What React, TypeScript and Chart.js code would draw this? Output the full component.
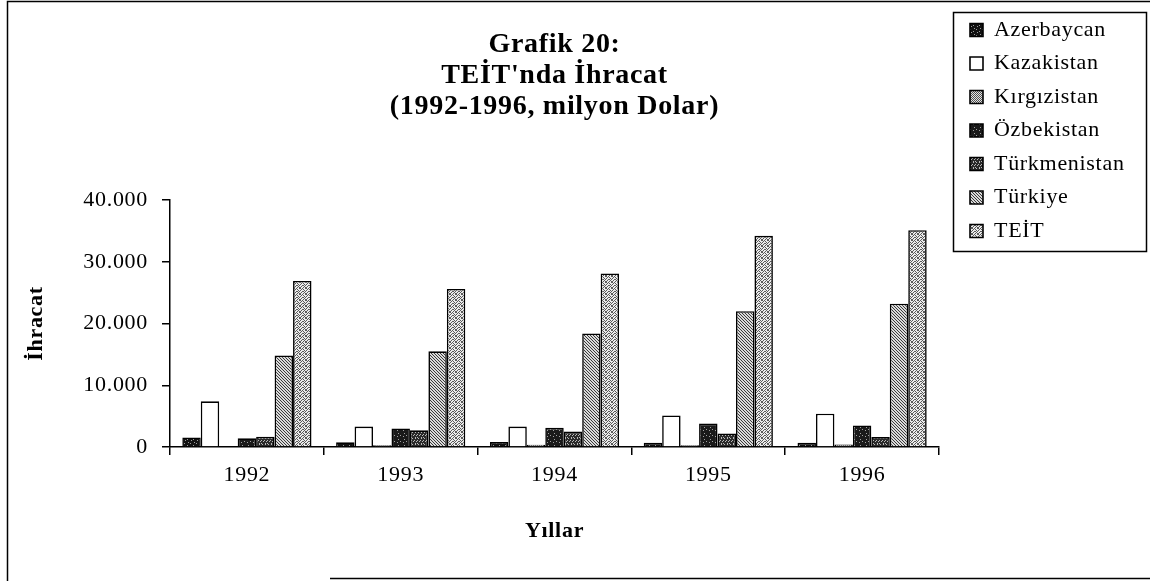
import React, { useEffect, useRef } from 'react';
import { Chart, registerables } from 'chart.js';

Chart.register(...registerables);

// ---- data ----
const years = ['1992', '1993', '1994', '1995', '1996'];
const azerbaycan = [1550, 750, 800, 700, 700];
const kazakistan = [7400, 3300, 3300, 5100, 5400];
const kirgizistan = [150, 300, 350, 300, 400];
const ozbekistan = [1400, 3000, 3100, 3800, 3500];
const turkmenistan = [1650, 2700, 2500, 2200, 1600];
const turkiye = [14800, 15500, 18400, 22000, 23200];
const teit = [26900, 25600, 28100, 34200, 35100];
const seriesNames = ['Azerbaycan', 'Kazakistan', 'Kırgızistan', 'Özbekistan', 'Türkmenistan', 'Türkiye', 'TEİT'];
const titleLines = ['Grafik 20:', "TEİT'nda İhracat", '(1992-1996, milyon Dolar)'];
const yAxisTitle = 'İhracat';
const xAxisTitle = 'Yıllar';
const yMin = 0;
const yMax = 40000;
const yStep = 10000;

const SERIF = "'Liberation Serif', 'Times New Roman', serif";
const LETTER_SPACING = '0.7px';

function fmt(v: number): string {
  return String(Math.round(v)).replace(/\B(?=(\d{3})+(?!\d))/g, '.');
}

function makePattern(bg: string, fg: string, rows: string[]): CanvasPattern | string {
  const h = rows.length;
  const w = rows[0].length;
  const c = document.createElement('canvas');
  c.width = w;
  c.height = h;
  const g = c.getContext('2d');
  if (!g) return bg;
  g.fillStyle = bg;
  g.fillRect(0, 0, w, h);
  g.fillStyle = fg;
  rows.forEach((r, y) => {
    for (let x = 0; x < w; x++) if (r[x] === '1') g.fillRect(x, y, 1, 1);
  });
  return g.createPattern(c, 'repeat') || bg;
}

const spacing = {
  id: 'spacing',
  beforeInit(chart: any) {
    chart.ctx.letterSpacing = LETTER_SPACING;
  },
  beforeLayout(chart: any) {
    chart.ctx.letterSpacing = LETTER_SPACING;
  },
  beforeDraw(chart: any) {
    chart.ctx.letterSpacing = LETTER_SPACING;
  },
};

const legendPlacer = {
  id: 'legendPlacer',
  beforeLayout(chart: any) {
    const lg = chart.legend;
    if (lg && !lg.__patched) {
      const orig = lg.fit;
      lg.fit = function () {
        orig.call(this);
        this.width = 211;
      };
      lg.__patched = true;
    }
  },
  afterLayout(chart: any) {
    const lg = chart.legend;
    if (lg) {
      const w = lg.width;
      const h = lg.height;
      lg.left = 958.5;
      lg.right = 958.5 + w;
      lg.top = 7.5;
      lg.bottom = 7.5 + h;
    }
  },
  afterDraw(chart: any) {
    const ctx = chart.ctx;
    ctx.save();
    ctx.strokeStyle = '#000';
    ctx.lineWidth = 1.5;
    // legend frame
    ctx.strokeRect(953.5, 12.5, 193, 239);
    // outer frame (top, left, bottom part)
    ctx.beginPath();
    ctx.moveTo(7.5, 581);
    ctx.lineTo(7.5, 1.5);
    ctx.lineTo(1150, 1.5);
    ctx.moveTo(330, 578.5);
    ctx.lineTo(1150, 578.5);
    ctx.stroke();
    ctx.restore();
  },
};

export default function App() {
  const ref = useRef<HTMLCanvasElement | null>(null);

  useEffect(() => {
    if (!ref.current) return;
    const pAzer = makePattern('#111111', '#9a9a9a', ['000000', '010000', '000001', '000000', '001000', '000010']);
    const pKaz = '#ffffff';
    const pKirg = makePattern('#e4e4e4', '#505050', ['10', '01']);
    const pOzb = makePattern('#1a1a1a', '#a0a0a0', ['000000', '001000', '000000', '000010', '010000', '000000']);
    const pTurkm = makePattern('#2a2a2a', '#b8b8b8', ['010010', '000000', '100100', '001001', '000000', '010100']);
    const pTurk = makePattern('#dadada', '#3a3a3a', ['100', '010', '001']);
    const pTeit = makePattern('#ececec', '#5a5a5a', ['101001', '010100', '100010', '001101', '010010', '100101']);

    const seriesData = [azerbaycan, kazakistan, kirgizistan, ozbekistan, turkmenistan, turkiye, teit];
    const fills = [pAzer, pKaz, pKirg, pOzb, pTurkm, pTurk, pTeit];

    const chart = new Chart(ref.current, {
      type: 'bar',
      data: {
        labels: years,
        datasets: seriesNames.map((name, i) => ({
          label: name,
          data: seriesData[i],
          backgroundColor: fills[i] as any,
          borderColor: '#000',
          borderWidth: 1.6,
          categoryPercentage: 0.84,
          barPercentage: 1.0,
        })),
      },
      options: {
        animation: false,
        responsive: false,
        devicePixelRatio: 1,
        layout: { padding: { left: 20, right: 0, top: 0, bottom: 0 } },
        plugins: {
          title: {
            display: true,
            text: titleLines,
            fullSize: false,
            color: '#000',
            font: { family: SERIF, size: 28, weight: 'bold', lineHeight: 31 / 28 },
            padding: { top: 29, bottom: 78 },
          },
          legend: {
            display: true,
            position: 'right',
            align: 'start',
            labels: {
              color: '#000',
              boxWidth: 13,
              boxHeight: 13,
              padding: 11.5,
              font: { family: SERIF, size: 22 },
            },
          },
          tooltip: { enabled: false },
        },
        scales: {
          x: {
            offset: true,
            afterFit(scale: any) {
              scale.height = 134;
            },
            grid: {
              display: true,
              drawOnChartArea: false,
              drawTicks: true,
              tickLength: 8,
              offset: true,
              color: '#000',
              lineWidth: 1.5,
            },
            border: { display: true, color: '#000', width: 1.5 },
            ticks: { color: '#000', padding: 7, font: { family: SERIF, size: 22 } },
            title: {
              display: true,
              text: xAxisTitle,
              color: '#000',
              font: { family: SERIF, size: 22, weight: 'bold' },
              padding: { top: 0, bottom: 36 },
            },
          },
          y: {
            min: yMin,
            max: yMax,
            afterFit(scale: any) {
              scale.width = 150;
            },
            grid: {
              display: true,
              drawOnChartArea: false,
              drawTicks: true,
              tickLength: 8,
              color: '#000',
              lineWidth: 1.5,
            },
            border: { display: true, color: '#000', width: 1.5 },
            ticks: {
              stepSize: yStep,
              color: '#000',
              padding: 14,
              font: { family: SERIF, size: 22 },
              callback: (v: any) => fmt(Number(v)),
            },
            title: {
              display: true,
              text: yAxisTitle,
              color: '#000',
              font: { family: SERIF, size: 22, weight: 'bold' },
              padding: { top: 3, bottom: 0 },
            },
          },
        },
      },
      plugins: [spacing, legendPlacer],
    } as any);

    return () => chart.destroy();
  }, []);

  return (
    <div style={{ position: 'absolute', left: 0, top: 0, width: 1150, height: 581, background: '#fff' }}>
      <canvas ref={ref} width={1150} height={581} style={{ display: 'block', width: 1150, height: 581 }} />
    </div>
  );
}
